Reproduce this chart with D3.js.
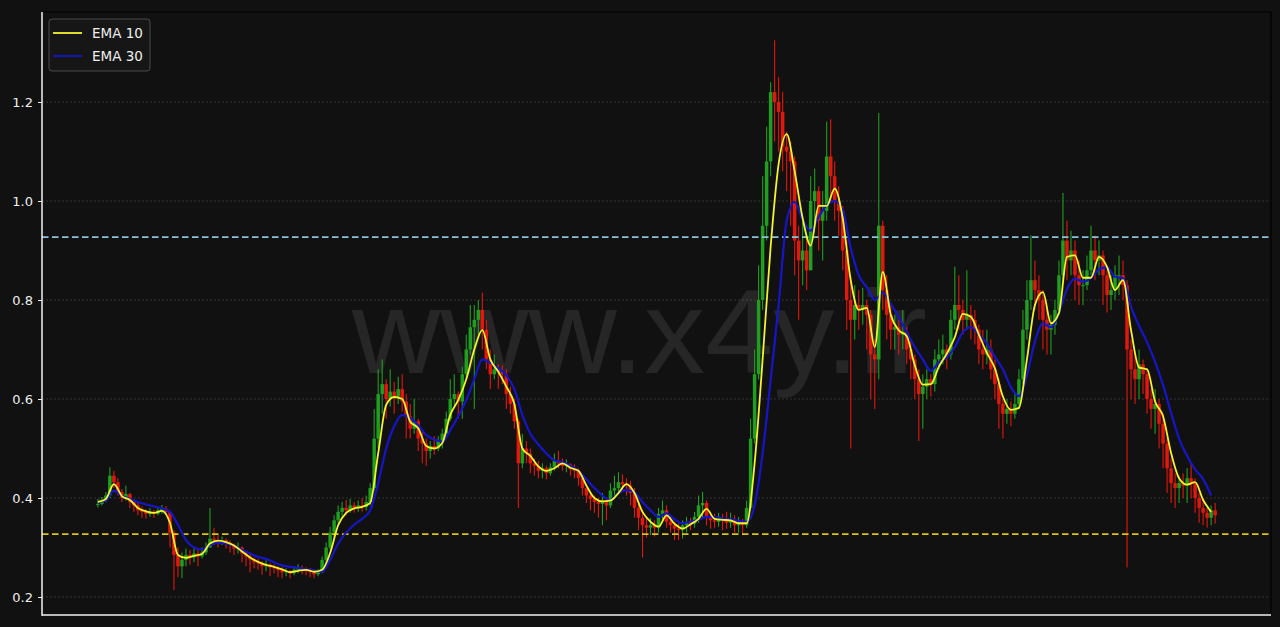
<!DOCTYPE html>
<html><head><meta charset="utf-8">
<script src="https://cdn.jsdelivr.net/npm/d3@7"></script>
<style>html,body{margin:0;padding:0;background:#111;}svg{display:block}</style>
</head><body><svg id="c" width="1280" height="627"></svg>
<script>
const closes=[.388,.396,.405,.445,.432,.412,.400,.408,.392,.385,
.375,.372,.368,.372,.368,.375,.378,.372,.330,.285,
.262,.275,.285,.280,.288,.282,.290,.300,.318,.315,
.312,.315,.308,.305,.298,.300,.288,.282,.276,.270,
.268,.262,.265,.260,.258,.254,.250,.252,.248,.255,
.258,.256,.252,.250,.246,.250,.275,.300,.330,.355,
.372,.380,.375,.385,.380,.385,.382,.392,.420,.520,
.610,.630,.600,.615,.605,.620,.595,.565,.540,.555,
.520,.510,.495,.505,.500,.515,.530,.560,.600,.610,
.595,.650,.700,.745,.760,.780,.740,.680,.650,.660,
.655,.650,.610,.590,.555,.470,.500,.490,.470,.465,
.455,.460,.450,.462,.475,.470,.465,.468,.458,.455,
.440,.420,.405,.398,.392,.388,.395,.385,.415,.420,
.432,.428,.425,.410,.380,.360,.345,.340,.345,.340,
.368,.375,.352,.345,.338,.335,.345,.350,.348,.362,
.385,.390,.360,.355,.352,.358,.355,.350,.356,.345,
.350,.345,.380,.520,.650,.800,.950,1.080,1.220,1.200,
1.180,1.110,1.100,1.080,.920,.880,.900,.860,1.000,1.020,
.960,.980,1.090,1.050,1.000,.980,.900,.800,.760,.790,
.780,.790,.770,.690,.680,.950,.820,.770,.740,.745,
.730,.735,.700,.680,.640,.610,.625,.640,.630,.680,
.690,.700,.690,.760,.790,.780,.760,.770,.760,.740,
.700,.690,.700,.660,.630,.590,.570,.580,.570,.590,
.640,.740,.800,.840,.820,.800,.760,.740,.750,.780,
.850,.920,.880,.900,.850,.830,.830,.860,.900,.880,
.890,.850,.810,.820,.850,.850,.830,.700,.660,.640,
.670,.650,.600,.580,.590,.550,.510,.460,.430,.420,
.430,.425,.440,.430,.400,.380,.370,.360,.375,.365];
const highs=[.398,.402,.412,.462,.455,.440,.418,.425,.410,.398,
.392,.383,.378,.380,.376,.382,.386,.384,.375,.335,
.300,.290,.298,.295,.298,.295,.300,.310,.380,.340,
.325,.322,.318,.314,.308,.310,.302,.292,.288,.280,
.277,.272,.274,.268,.266,.262,.260,.258,.255,.262,
.266,.264,.260,.258,.254,.256,.282,.310,.342,.365,
.385,.392,.396,.398,.392,.395,.400,.405,.430,.580,
.660,.680,.640,.660,.635,.645,.650,.610,.590,.600,
.560,.535,.520,.515,.525,.525,.540,.575,.640,.650,
.615,.665,.730,.790,.790,.800,.815,.760,.700,.690,
.670,.668,.660,.625,.600,.560,.530,.515,.500,.480,
.475,.470,.465,.470,.490,.495,.480,.478,.470,.468,
.460,.445,.428,.410,.405,.400,.410,.400,.430,.445,
.452,.448,.440,.435,.420,.390,.375,.362,.360,.355,
.380,.395,.385,.362,.352,.348,.355,.362,.360,.372,
.405,.412,.395,.372,.368,.370,.368,.372,.370,.365,
.362,.358,.395,.560,.700,.870,1.050,1.150,1.240,1.325,
1.250,1.220,1.140,1.120,1.090,.950,.960,.930,1.050,1.065,
1.030,1.020,1.160,1.165,1.080,1.030,.990,.920,.850,.830,
.820,.825,.800,.780,.720,1.178,.960,.850,.790,.770,
.760,.780,.745,.720,.690,.660,.650,.660,.650,.700,
.720,.730,.710,.780,.867,.850,.800,.860,.790,.780,
.750,.740,.740,.720,.680,.640,.600,.600,.595,.610,
.660,.780,.840,.931,.880,.850,.820,.780,.770,.800,
.880,1.016,.960,.940,.920,.880,.860,.890,.950,.930,
.920,.900,.860,.850,.870,.890,.880,.840,.720,.690,
.700,.680,.660,.620,.620,.600,.570,.520,.480,.450,
.445,.450,.460,.470,.440,.410,.400,.380,.385,.390];
const lows=[.381,.385,.392,.400,.420,.405,.392,.395,.380,.372,
.365,.360,.358,.362,.360,.365,.368,.365,.300,.214,
.240,.238,.262,.265,.270,.262,.278,.285,.300,.305,
.300,.305,.298,.290,.285,.288,.270,.262,.250,.258,
.255,.245,.252,.242,.248,.240,.238,.242,.238,.244,
.248,.246,.244,.240,.238,.242,.248,.270,.295,.320,
.345,.360,.365,.370,.370,.372,.372,.375,.385,.415,
.500,.570,.560,.585,.570,.590,.575,.520,.520,.530,
.495,.470,.465,.480,.488,.495,.500,.530,.555,.585,
.560,.560,.640,.690,.580,.730,.700,.660,.620,.640,
.620,.630,.580,.570,.540,.380,.460,.470,.450,.445,
.440,.440,.438,.445,.455,.460,.455,.452,.445,.440,
.425,.405,.390,.375,.370,.360,.345,.355,.380,.400,
.410,.415,.405,.385,.360,.335,.280,.320,.325,.322,
.330,.355,.340,.330,.315,.315,.318,.330,.335,.340,
.350,.360,.345,.338,.340,.342,.335,.338,.340,.330,
.330,.325,.340,.375,.510,.640,.780,.920,1.050,1.120,
1.100,1.060,1.020,.950,.850,.760,.830,.820,.860,.950,
.900,.880,.960,1.000,.960,.930,.860,.740,.500,.720,
.740,.750,.700,.600,.580,.640,.780,.720,.700,.700,
.690,.700,.670,.640,.600,.515,.540,.600,.605,.615,
.660,.670,.660,.680,.740,.740,.730,.740,.720,.710,
.670,.660,.670,.640,.600,.540,.520,.550,.545,.560,
.580,.630,.720,.780,.780,.760,.700,.690,.690,.730,
.770,.840,.840,.850,.800,.790,.790,.820,.850,.840,
.850,.790,.775,.780,.800,.810,.800,.260,.600,.590,
.600,.610,.570,.540,.530,.500,.460,.410,.390,.380,
.390,.400,.390,.400,.370,.350,.345,.340,.345,.348];
// EMA values, one every second candle
const ema10=[.392,.398,.428,.404,.396,.380,.373,.370,.374,.350,
.285,.279,.283,.287,.308,.314,.311,.304,.292,.280,
.271,.265,.261,.256,.250,.253,.255,.251,.255,.289,
.345,.370,.379,.382,.390,.490,.588,.604,.600,.554,
.541,.505,.500,.511,.568,.598,.640,.700,.739,.680,
.655,.625,.590,.500,.485,.464,.455,.460,.470,.461,
.455,.425,.400,.393,.395,.410,.428,.410,.372,.352,
.342,.365,.348,.338,.347,.358,.378,.358,.356,.355,
.349,.349,.470,.680,.907,1.075,1.135,1.060,.965,.910,
.990,.990,1.025,.965,.840,.780,.784,.705,.857,.770,
.739,.727,.668,.629,.630,.665,.692,.725,.772,.766,
.730,.693,.662,.605,.578,.582,.680,.790,.816,.753,
.774,.887,.890,.845,.845,.887,.867,.820,.840,.739,
.664,.660,.595,.565,.491,.440,.427,.432,.396,.372];
const ema30=[.392,.395,.415,.404,.398,.392,.387,.383,.379,.372,
.346,.315,.300,.296,.305,.310,.308,.304,.295,.288,
.281,.277,.270,.264,.261,.259,.256,.254,.251,.275,
.308,.330,.346,.358,.375,.430,.500,.545,.568,.562,
.547,.527,.518,.514,.537,.565,.598,.640,.680,.673,
.662,.648,.620,.568,.530,.508,.490,.476,.472,.465,
.455,.438,.420,.405,.396,.410,.416,.411,.392,.375,
.362,.369,.357,.349,.352,.356,.362,.361,.359,.357,
.354,.352,.385,.490,.638,.790,.960,.998,.962,.940,
.968,.992,1.000,.982,.905,.850,.826,.800,.815,.792,
.765,.735,.705,.680,.657,.674,.684,.705,.735,.745,
.730,.712,.685,.660,.624,.606,.648,.716,.753,.745,
.774,.822,.843,.837,.844,.862,.866,.847,.844,.786,
.748,.715,.675,.628,.572,.520,.485,.458,.438,.405];
const yTicks=[0.2,0.4,0.6,0.8,1.0,1.2];
const levels=[{v:0.927,color:"#8cc4da"},{v:0.327,color:"#dcc414"}];
const legendItems=[{label:"EMA 10",color:"#f4f42c"},{label:"EMA 30",color:"#1616c8"}];
const watermark="www.x4y.ir";

const W=1280,H=627,L=42,R=1271,T=12,B=615;
const svg=d3.select("#c");
svg.append("rect").attr("width",W).attr("height",H).attr("fill","#111111");
const n=closes.length;
const pad=0.05*(n-1);
const x=d3.scaleLinear().domain([-pad,n-1+pad]).range([L,R]);
const y=d3.scaleLinear().domain([0.2,1.2]).range([597,102]);

svg.append("defs").append("clipPath").attr("id","clip").append("rect")
  .attr("x",L).attr("y",T).attr("width",R-L).attr("height",B-T);

// grid
svg.append("g").selectAll("line").data(yTicks).join("line")
  .attr("x1",L).attr("x2",R).attr("y1",d=>y(d)).attr("y2",d=>y(d))
  .attr("stroke","#3c3c3c").attr("stroke-width",0.8).attr("stroke-dasharray","2,2");

// watermark
svg.append("text").attr("x",(352+927)/2).attr("y",373).attr("text-anchor","middle")
  .attr("font-family","Liberation Sans, Arial, sans-serif").attr("font-size",118)
  .attr("textLength",575).attr("lengthAdjust","spacingAndGlyphs")
  .attr("fill","#ffffff").attr("fill-opacity",0.09).text(watermark);

const plot=svg.append("g").attr("clip-path","url(#clip)");
const candles=closes.map((c,i)=>({i,c,o:i===0?c:closes[i-1],h:highs[i],l:lows[i]}));
const green="#1f9e1f",red="#e3170b";
const bw=3.5;
const cg=plot.append("g");
cg.selectAll("line").data(candles).join("line")
  .attr("x1",d=>x(d.i)).attr("x2",d=>x(d.i))
  .attr("y1",d=>y(Math.max(d.h,d.o,d.c))).attr("y2",d=>y(Math.min(d.l,d.o,d.c)))
  .attr("stroke",d=>d.c>=d.o?green:red).attr("stroke-width",1.1);
cg.selectAll("rect").data(candles).join("rect")
  .attr("x",d=>x(d.i)-bw/2).attr("width",bw)
  .attr("y",d=>y(Math.max(d.o,d.c)))
  .attr("height",d=>Math.max(1,Math.abs(y(d.o)-y(d.c))))
  .attr("fill",d=>d.c>=d.o?green:red);

// level lines
plot.selectAll(".lvl").data(levels).join("line").attr("class","lvl")
  .attr("x1",L).attr("x2",R).attr("y1",d=>y(d.v)).attr("y2",d=>y(d.v))
  .attr("stroke",d=>d.color).attr("stroke-width",1.9).attr("stroke-dasharray","6.5,3.5");

// EMA lines
const line=d3.line().x((d,k)=>x(2*k)).y(d=>y(d)).curve(d3.curveMonotoneX);
plot.append("path").datum(ema30).attr("d",line).attr("fill","none")
  .attr("stroke",legendItems[1].color).attr("stroke-width",2.2);
plot.append("path").datum(ema10).attr("d",line).attr("fill","none")
  .attr("stroke",legendItems[0].color).attr("stroke-width",1.8);

// spines
svg.append("line").attr("x1",L).attr("x2",R).attr("y1",T).attr("y2",T).attr("stroke","#000").attr("stroke-width",1.2);
svg.append("line").attr("x1",R).attr("x2",R).attr("y1",T).attr("y2",B).attr("stroke","#000").attr("stroke-width",1.2);
const yAxis=d3.axisLeft(y).tickValues(yTicks).tickFormat(d3.format(".1f")).tickSize(4).tickSizeOuter(0);
const ga=svg.append("g").attr("transform",`translate(${L},0)`).call(yAxis);
ga.select(".domain").remove();
ga.selectAll(".tick line").attr("stroke","#eee");
ga.selectAll(".tick text").attr("fill","#eee").attr("font-family","DejaVu Sans, sans-serif").attr("font-size",13).attr("dx",-2);
svg.append("line").attr("x1",L).attr("x2",L).attr("y1",T).attr("y2",B+0.75).attr("stroke","#f2f2f2").attr("stroke-width",1.5);
svg.append("line").attr("x1",L).attr("x2",R).attr("y1",B).attr("y2",B).attr("stroke","#f2f2f2").attr("stroke-width",1.5);

// legend
const lg=svg.append("g");
lg.append("rect").attr("x",49).attr("y",19).attr("width",101).attr("height",52).attr("rx",3)
  .attr("fill","#161616").attr("stroke","#4a4a4a").attr("stroke-width",1);
legendItems.forEach((it,j)=>{
  const yy=33+j*23;
  lg.append("line").attr("x1",53).attr("x2",82).attr("y1",yy).attr("y2",yy)
    .attr("stroke",it.color).attr("stroke-width",1.8);
  lg.append("text").attr("x",92).attr("y",yy).attr("dy","0.36em")
    .attr("fill","#eeeeee").attr("font-family","DejaVu Sans, sans-serif").attr("font-size",13.5).text(it.label);
});
</script></body></html>
